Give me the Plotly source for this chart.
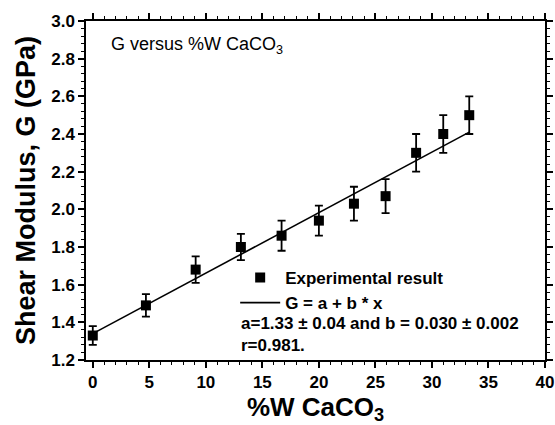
import plotly.graph_objects as go

# Data
wt_caco3 = [0, 4.7, 9.1, 13.1, 16.7, 20.0, 23.1, 25.9, 28.6, 31.0, 33.3]
shear_g = [1.33, 1.49, 1.68, 1.80, 1.86, 1.94, 2.03, 2.07, 2.30, 2.40, 2.50]
shear_err = [0.05, 0.06, 0.07, 0.07, 0.08, 0.08, 0.09, 0.09, 0.10, 0.10, 0.10]

fit_x = [0, 33.3]
fit_y = [1.34, 2.41]

x_ticks = [0, 5, 10, 15, 20, 25, 30, 35, 40]
y_ticks = [1.2, 1.4, 1.6, 1.8, 2.0, 2.2, 2.4, 2.6, 2.8, 3.0]

FONT = "Liberation Sans, Arial, sans-serif"

fig = go.Figure()
fig.add_trace(go.Scatter(
    x=wt_caco3, y=shear_g, mode="markers",
    marker=dict(symbol="square", size=10, color="black"),
    error_y=dict(type="data", array=shear_err, visible=True, color="black",
                 thickness=1.8, width=4),
    name="Experimental result",
))
fig.add_trace(go.Scatter(
    x=fit_x, y=fit_y, mode="lines",
    line=dict(color="black", width=1.6),
    name="G = a + b * x",
))

axis_common = dict(
    showline=True, linecolor="black", linewidth=1.5, mirror="allticks",
    ticks="outside", ticklen=6, tickwidth=1.5, tickcolor="black",
    showgrid=False, zeroline=False, automargin=False,
    tickfont=dict(family=FONT, size=17, color="black", weight="bold"),
)

fig.update_layout(
    width=555, height=425,
    margin=dict(l=86, r=10, t=21, b=65),
    paper_bgcolor="white", plot_bgcolor="white",
    showlegend=True,
    legend=dict(x=0.325, y=0.295, xanchor="left", yanchor="top",
                bgcolor="rgba(0,0,0,0)", itemwidth=40,
                font=dict(family=FONT, size=17, color="black", weight="bold"),
                tracegroupgap=0),
    xaxis=dict(range=[-0.6, 40], tickvals=x_ticks,
               minor=dict(dtick=1, ticks="outside", ticklen=3, tickwidth=1.2, tickcolor="black"),
               title=dict(text="%W CaCO<sub>3</sub>", standoff=8,
                          font=dict(family=FONT, size=26, color="black", weight="bold")),
               **axis_common),
    yaxis=dict(range=[1.2, 3.0], tickvals=y_ticks, tickformat=".1f",
               minor=dict(dtick=0.04, ticks="outside", ticklen=3, tickwidth=1.2, tickcolor="black"),
               title=dict(text="Shear Modulus, G (GPa)", standoff=8,
                          font=dict(family=FONT, size=27, color="black", weight="bold")),
               **axis_common),
    annotations=[
        dict(text="G versus %W CaCO<sub>3</sub>", xref="paper", yref="paper",
             x=0.05, y=0.929, xanchor="left", yanchor="middle", showarrow=False,
             font=dict(family=FONT, size=18, color="black")),
        dict(text="a=1.33 ± 0.04 and b = 0.030 ± 0.002", xref="paper", yref="paper",
             x=0.333, y=0.109, xanchor="left", yanchor="middle", showarrow=False,
             font=dict(family=FONT, size=17, color="black", weight="bold")),
        dict(text="r=0.981.", xref="paper", yref="paper",
             x=0.333, y=0.044, xanchor="left", yanchor="middle", showarrow=False,
             font=dict(family=FONT, size=17, color="black", weight="bold")),
    ],
)

fig.write_html("out.html")
